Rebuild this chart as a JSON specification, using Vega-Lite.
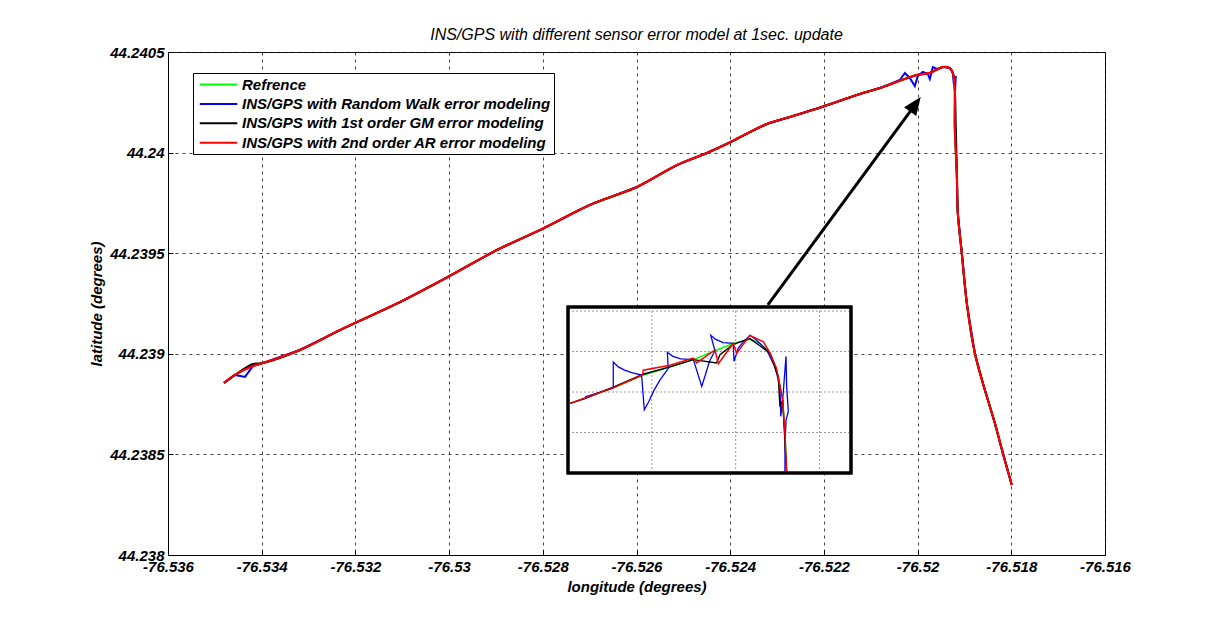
{
"$schema": "https://vega.github.io/schema/vega-lite/v6.json",
"width": 937,
"height": 503,
"autosize": {"type": "none"},
"padding": {"left": 168, "top": 52, "right": 114, "bottom": 70},
"background": "white",
"title": {"text": "INS/GPS with different sensor error model  at 1sec. update", "font": "Liberation Sans", "fontSize": 16, "fontStyle": "italic", "fontWeight": "normal", "color": "black", "anchor": "middle", "baseline": "bottom", "offset": 11, "dy": 25},
"config": {
 "font": "Liberation Sans",
 "view": {"stroke": "black", "strokeWidth": 1},
 "axis": {"domainColor": "black", "domainWidth": 1, "tickColor": "black", "tickSize": -5, "labelPadding": 9, "labelColor": "black", "titleColor": "black", "labelFont": "Liberation Sans", "labelFontSize": 15, "labelFontWeight": "bold", "labelFontStyle": "italic", "titleFont": "Liberation Sans", "titleFontSize": 15, "titleFontWeight": "bold", "titleFontStyle": "italic", "grid": true, "gridColor": "#222222", "gridDash": [3, 4], "gridOpacity": 0.85, "gridWidth": 1, "labelFlush": false, "labelOverlap": false, "titlePadding": 5}
},
"datasets": {
 "main": [
  {"s":"Refrence","i":1,"lon":-76.534805,"lat":44.238855},
  {"s":"Refrence","i":2,"lon":-76.534570,"lat":44.238895},
  {"s":"Refrence","i":3,"lon":-76.534186,"lat":44.238939},
  {"s":"Refrence","i":4,"lon":-76.533973,"lat":44.238954},
  {"s":"Refrence","i":5,"lon":-76.533183,"lat":44.239019},
  {"s":"Refrence","i":6,"lon":-76.532330,"lat":44.239118},
  {"s":"Refrence","i":7,"lon":-76.531049,"lat":44.239257},
  {"s":"Refrence","i":8,"lon":-76.530025,"lat":44.239382},
  {"s":"Refrence","i":9,"lon":-76.528979,"lat":44.239516},
  {"s":"Refrence","i":10,"lon":-76.528019,"lat":44.239620},
  {"s":"Refrence","i":11,"lon":-76.526995,"lat":44.239740},
  {"s":"Refrence","i":12,"lon":-76.525992,"lat":44.239829},
  {"s":"Refrence","i":13,"lon":-76.525138,"lat":44.239938},
  {"s":"Refrence","i":14,"lon":-76.524498,"lat":44.239998},
  {"s":"Refrence","i":15,"lon":-76.524029,"lat":44.240048},
  {"s":"Refrence","i":16,"lon":-76.523581,"lat":44.240102},
  {"s":"Refrence","i":17,"lon":-76.523218,"lat":44.240142},
  {"s":"Refrence","i":18,"lon":-76.522727,"lat":44.240177},
  {"s":"Refrence","i":19,"lon":-76.522044,"lat":44.240227},
  {"s":"Refrence","i":20,"lon":-76.521297,"lat":44.240286},
  {"s":"Refrence","i":21,"lon":-76.520742,"lat":44.240326},
  {"s":"Refrence","i":22,"lon":-76.520017,"lat":44.240386},
  {"s":"Refrence","i":23,"lon":-76.519739,"lat":44.240396},
  {"s":"Refrence","i":24,"lon":-76.519462,"lat":44.240425},
  {"s":"Refrence","i":25,"lon":-76.519312,"lat":44.240420},
  {"s":"Refrence","i":26,"lon":-76.519248,"lat":44.240396},
  {"s":"Refrence","i":27,"lon":-76.519206,"lat":44.240311},
  {"s":"Refrence","i":28,"lon":-76.519206,"lat":44.240127},
  {"s":"Refrence","i":29,"lon":-76.519163,"lat":44.239899},
  {"s":"Refrence","i":30,"lon":-76.519142,"lat":44.239700},
  {"s":"Refrence","i":31,"lon":-76.519057,"lat":44.239501},
  {"s":"Refrence","i":32,"lon":-76.518950,"lat":44.239252},
  {"s":"Refrence","i":33,"lon":-76.518779,"lat":44.239004},
  {"s":"Refrence","i":34,"lon":-76.518608,"lat":44.238855},
  {"s":"Refrence","i":35,"lon":-76.518352,"lat":44.238656},
  {"s":"Refrence","i":36,"lon":-76.518181,"lat":44.238507},
  {"s":"Refrence","i":37,"lon":-76.517989,"lat":44.238348},

  {"s":"INS/GPS with Random Walk error modeling","i":1,"lon":-76.534805,"lat":44.238855},
  {"s":"INS/GPS with Random Walk error modeling","i":2,"lon":-76.534570,"lat":44.238895},
  {"s":"INS/GPS with Random Walk error modeling","i":3,"lon":-76.534357,"lat":44.238885},
  {"s":"INS/GPS with Random Walk error modeling","i":4,"lon":-76.534186,"lat":44.238939},
  {"s":"INS/GPS with Random Walk error modeling","i":5,"lon":-76.533973,"lat":44.238954},
  {"s":"INS/GPS with Random Walk error modeling","i":6,"lon":-76.533183,"lat":44.239019},
  {"s":"INS/GPS with Random Walk error modeling","i":7,"lon":-76.532330,"lat":44.239118},
  {"s":"INS/GPS with Random Walk error modeling","i":8,"lon":-76.531049,"lat":44.239257},
  {"s":"INS/GPS with Random Walk error modeling","i":9,"lon":-76.530025,"lat":44.239382},
  {"s":"INS/GPS with Random Walk error modeling","i":10,"lon":-76.528979,"lat":44.239516},
  {"s":"INS/GPS with Random Walk error modeling","i":11,"lon":-76.528019,"lat":44.239620},
  {"s":"INS/GPS with Random Walk error modeling","i":12,"lon":-76.526995,"lat":44.239740},
  {"s":"INS/GPS with Random Walk error modeling","i":13,"lon":-76.525992,"lat":44.239829},
  {"s":"INS/GPS with Random Walk error modeling","i":14,"lon":-76.525138,"lat":44.239938},
  {"s":"INS/GPS with Random Walk error modeling","i":15,"lon":-76.524498,"lat":44.239998},
  {"s":"INS/GPS with Random Walk error modeling","i":16,"lon":-76.524029,"lat":44.240048},
  {"s":"INS/GPS with Random Walk error modeling","i":17,"lon":-76.523581,"lat":44.240102},
  {"s":"INS/GPS with Random Walk error modeling","i":18,"lon":-76.523218,"lat":44.240142},
  {"s":"INS/GPS with Random Walk error modeling","i":19,"lon":-76.522727,"lat":44.240177},
  {"s":"INS/GPS with Random Walk error modeling","i":20,"lon":-76.522044,"lat":44.240227},
  {"s":"INS/GPS with Random Walk error modeling","i":21,"lon":-76.521297,"lat":44.240286},
  {"s":"INS/GPS with Random Walk error modeling","i":22,"lon":-76.520742,"lat":44.240326},
  {"s":"INS/GPS with Random Walk error modeling","i":23,"lon":-76.520379,"lat":44.240361},
  {"s":"INS/GPS with Random Walk error modeling","i":24,"lon":-76.520272,"lat":44.240396},
  {"s":"INS/GPS with Random Walk error modeling","i":25,"lon":-76.520166,"lat":44.240371},
  {"s":"INS/GPS with Random Walk error modeling","i":26,"lon":-76.520059,"lat":44.240331},
  {"s":"INS/GPS with Random Walk error modeling","i":27,"lon":-76.519995,"lat":44.240381},
  {"s":"INS/GPS with Random Walk error modeling","i":28,"lon":-76.519888,"lat":44.240401},
  {"s":"INS/GPS with Random Walk error modeling","i":29,"lon":-76.519782,"lat":44.240391},
  {"s":"INS/GPS with Random Walk error modeling","i":30,"lon":-76.519739,"lat":44.240366},
  {"s":"INS/GPS with Random Walk error modeling","i":31,"lon":-76.519675,"lat":44.240425},
  {"s":"INS/GPS with Random Walk error modeling","i":32,"lon":-76.519568,"lat":44.240415},
  {"s":"INS/GPS with Random Walk error modeling","i":33,"lon":-76.519462,"lat":44.240425},
  {"s":"INS/GPS with Random Walk error modeling","i":34,"lon":-76.519312,"lat":44.240420},
  {"s":"INS/GPS with Random Walk error modeling","i":35,"lon":-76.519248,"lat":44.240396},
  {"s":"INS/GPS with Random Walk error modeling","i":36,"lon":-76.519227,"lat":44.240341},
  {"s":"INS/GPS with Random Walk error modeling","i":37,"lon":-76.519184,"lat":44.240381},
  {"s":"INS/GPS with Random Walk error modeling","i":38,"lon":-76.519206,"lat":44.240286},
  {"s":"INS/GPS with Random Walk error modeling","i":39,"lon":-76.519206,"lat":44.240127},
  {"s":"INS/GPS with Random Walk error modeling","i":40,"lon":-76.519163,"lat":44.239899},
  {"s":"INS/GPS with Random Walk error modeling","i":41,"lon":-76.519142,"lat":44.239700},
  {"s":"INS/GPS with Random Walk error modeling","i":42,"lon":-76.519057,"lat":44.239501},
  {"s":"INS/GPS with Random Walk error modeling","i":43,"lon":-76.518950,"lat":44.239252},
  {"s":"INS/GPS with Random Walk error modeling","i":44,"lon":-76.518779,"lat":44.239004},
  {"s":"INS/GPS with Random Walk error modeling","i":45,"lon":-76.518608,"lat":44.238855},
  {"s":"INS/GPS with Random Walk error modeling","i":46,"lon":-76.518352,"lat":44.238656},
  {"s":"INS/GPS with Random Walk error modeling","i":47,"lon":-76.518181,"lat":44.238507},
  {"s":"INS/GPS with Random Walk error modeling","i":48,"lon":-76.517989,"lat":44.238348},

  {"s":"INS/GPS with 1st order GM error modeling","i":1,"lon":-76.534805,"lat":44.238855},
  {"s":"INS/GPS with 1st order GM error modeling","i":2,"lon":-76.534570,"lat":44.238895},
  {"s":"INS/GPS with 1st order GM error modeling","i":3,"lon":-76.534186,"lat":44.238949},
  {"s":"INS/GPS with 1st order GM error modeling","i":4,"lon":-76.533973,"lat":44.238954},
  {"s":"INS/GPS with 1st order GM error modeling","i":5,"lon":-76.533183,"lat":44.239019},
  {"s":"INS/GPS with 1st order GM error modeling","i":6,"lon":-76.532330,"lat":44.239118},
  {"s":"INS/GPS with 1st order GM error modeling","i":7,"lon":-76.531049,"lat":44.239257},
  {"s":"INS/GPS with 1st order GM error modeling","i":8,"lon":-76.530025,"lat":44.239382},
  {"s":"INS/GPS with 1st order GM error modeling","i":9,"lon":-76.528979,"lat":44.239516},
  {"s":"INS/GPS with 1st order GM error modeling","i":10,"lon":-76.528019,"lat":44.239620},
  {"s":"INS/GPS with 1st order GM error modeling","i":11,"lon":-76.526995,"lat":44.239740},
  {"s":"INS/GPS with 1st order GM error modeling","i":12,"lon":-76.525992,"lat":44.239829},
  {"s":"INS/GPS with 1st order GM error modeling","i":13,"lon":-76.525138,"lat":44.239938},
  {"s":"INS/GPS with 1st order GM error modeling","i":14,"lon":-76.524498,"lat":44.239998},
  {"s":"INS/GPS with 1st order GM error modeling","i":15,"lon":-76.524029,"lat":44.240048},
  {"s":"INS/GPS with 1st order GM error modeling","i":16,"lon":-76.523581,"lat":44.240102},
  {"s":"INS/GPS with 1st order GM error modeling","i":17,"lon":-76.523218,"lat":44.240142},
  {"s":"INS/GPS with 1st order GM error modeling","i":18,"lon":-76.522727,"lat":44.240177},
  {"s":"INS/GPS with 1st order GM error modeling","i":19,"lon":-76.522044,"lat":44.240227},
  {"s":"INS/GPS with 1st order GM error modeling","i":20,"lon":-76.521297,"lat":44.240286},
  {"s":"INS/GPS with 1st order GM error modeling","i":21,"lon":-76.520742,"lat":44.240326},
  {"s":"INS/GPS with 1st order GM error modeling","i":22,"lon":-76.520017,"lat":44.240386},
  {"s":"INS/GPS with 1st order GM error modeling","i":23,"lon":-76.519739,"lat":44.240396},
  {"s":"INS/GPS with 1st order GM error modeling","i":24,"lon":-76.519462,"lat":44.240425},
  {"s":"INS/GPS with 1st order GM error modeling","i":25,"lon":-76.519312,"lat":44.240420},
  {"s":"INS/GPS with 1st order GM error modeling","i":26,"lon":-76.519248,"lat":44.240396},
  {"s":"INS/GPS with 1st order GM error modeling","i":27,"lon":-76.519206,"lat":44.240311},
  {"s":"INS/GPS with 1st order GM error modeling","i":28,"lon":-76.519185,"lat":44.240127},
  {"s":"INS/GPS with 1st order GM error modeling","i":29,"lon":-76.519163,"lat":44.239899},
  {"s":"INS/GPS with 1st order GM error modeling","i":30,"lon":-76.519142,"lat":44.239700},
  {"s":"INS/GPS with 1st order GM error modeling","i":31,"lon":-76.519057,"lat":44.239501},
  {"s":"INS/GPS with 1st order GM error modeling","i":32,"lon":-76.518950,"lat":44.239252},
  {"s":"INS/GPS with 1st order GM error modeling","i":33,"lon":-76.518779,"lat":44.239004},
  {"s":"INS/GPS with 1st order GM error modeling","i":34,"lon":-76.518608,"lat":44.238855},
  {"s":"INS/GPS with 1st order GM error modeling","i":35,"lon":-76.518352,"lat":44.238656},
  {"s":"INS/GPS with 1st order GM error modeling","i":36,"lon":-76.518181,"lat":44.238507},
  {"s":"INS/GPS with 1st order GM error modeling","i":37,"lon":-76.517989,"lat":44.238348},

  {"s":"INS/GPS with 2nd order AR error modeling","i":1,"lon":-76.534805,"lat":44.238855},
  {"s":"INS/GPS with 2nd order AR error modeling","i":2,"lon":-76.534570,"lat":44.238895},
  {"s":"INS/GPS with 2nd order AR error modeling","i":3,"lon":-76.534186,"lat":44.238939},
  {"s":"INS/GPS with 2nd order AR error modeling","i":4,"lon":-76.533973,"lat":44.238954},
  {"s":"INS/GPS with 2nd order AR error modeling","i":5,"lon":-76.533183,"lat":44.239019},
  {"s":"INS/GPS with 2nd order AR error modeling","i":6,"lon":-76.532330,"lat":44.239118},
  {"s":"INS/GPS with 2nd order AR error modeling","i":7,"lon":-76.531049,"lat":44.239257},
  {"s":"INS/GPS with 2nd order AR error modeling","i":8,"lon":-76.530025,"lat":44.239382},
  {"s":"INS/GPS with 2nd order AR error modeling","i":9,"lon":-76.528979,"lat":44.239516},
  {"s":"INS/GPS with 2nd order AR error modeling","i":10,"lon":-76.528019,"lat":44.239620},
  {"s":"INS/GPS with 2nd order AR error modeling","i":11,"lon":-76.526995,"lat":44.239740},
  {"s":"INS/GPS with 2nd order AR error modeling","i":12,"lon":-76.525992,"lat":44.239829},
  {"s":"INS/GPS with 2nd order AR error modeling","i":13,"lon":-76.525138,"lat":44.239938},
  {"s":"INS/GPS with 2nd order AR error modeling","i":14,"lon":-76.524498,"lat":44.239998},
  {"s":"INS/GPS with 2nd order AR error modeling","i":15,"lon":-76.524029,"lat":44.240048},
  {"s":"INS/GPS with 2nd order AR error modeling","i":16,"lon":-76.523581,"lat":44.240102},
  {"s":"INS/GPS with 2nd order AR error modeling","i":17,"lon":-76.523218,"lat":44.240142},
  {"s":"INS/GPS with 2nd order AR error modeling","i":18,"lon":-76.522727,"lat":44.240177},
  {"s":"INS/GPS with 2nd order AR error modeling","i":19,"lon":-76.522044,"lat":44.240227},
  {"s":"INS/GPS with 2nd order AR error modeling","i":20,"lon":-76.521297,"lat":44.240286},
  {"s":"INS/GPS with 2nd order AR error modeling","i":21,"lon":-76.520742,"lat":44.240326},
  {"s":"INS/GPS with 2nd order AR error modeling","i":22,"lon":-76.520017,"lat":44.240386},
  {"s":"INS/GPS with 2nd order AR error modeling","i":23,"lon":-76.519739,"lat":44.240396},
  {"s":"INS/GPS with 2nd order AR error modeling","i":24,"lon":-76.519462,"lat":44.240425},
  {"s":"INS/GPS with 2nd order AR error modeling","i":25,"lon":-76.519312,"lat":44.240420},
  {"s":"INS/GPS with 2nd order AR error modeling","i":26,"lon":-76.519248,"lat":44.240396},
  {"s":"INS/GPS with 2nd order AR error modeling","i":27,"lon":-76.519206,"lat":44.240311},
  {"s":"INS/GPS with 2nd order AR error modeling","i":28,"lon":-76.519206,"lat":44.240127},
  {"s":"INS/GPS with 2nd order AR error modeling","i":29,"lon":-76.519163,"lat":44.239899},
  {"s":"INS/GPS with 2nd order AR error modeling","i":30,"lon":-76.519142,"lat":44.239700},
  {"s":"INS/GPS with 2nd order AR error modeling","i":31,"lon":-76.519057,"lat":44.239501},
  {"s":"INS/GPS with 2nd order AR error modeling","i":32,"lon":-76.518950,"lat":44.239252},
  {"s":"INS/GPS with 2nd order AR error modeling","i":33,"lon":-76.518779,"lat":44.239004},
  {"s":"INS/GPS with 2nd order AR error modeling","i":34,"lon":-76.518608,"lat":44.238855},
  {"s":"INS/GPS with 2nd order AR error modeling","i":35,"lon":-76.518352,"lat":44.238656},
  {"s":"INS/GPS with 2nd order AR error modeling","i":36,"lon":-76.518181,"lat":44.238507},
  {"s":"INS/GPS with 2nd order AR error modeling","i":37,"lon":-76.517989,"lat":44.238348}
 ],
 "arrow": [
  {"lon": -76.523196, "lat": 44.239243, "lon2": -76.520059, "lat2": 44.240236}
 ],
 "insetBox": [
  {"lon": -76.5204, "lon2": -76.51905, "lat": 44.24025, "lat2": 44.240455}
 ],
 "insetGridX": [{"lon": -76.5200}, {"lon": -76.5196}, {"lon": -76.5192}],
 "insetGridY": [{"lat": 44.24045}, {"lat": 44.2404}, {"lat": 44.24035}, {"lat": 44.2403}],
 "inset": [
  {"s":"Refrence","i":1,"lon":-76.520390,"lat":44.240336},
  {"s":"Refrence","i":2,"lon":-76.520176,"lat":44.240356},
  {"s":"Refrence","i":3,"lon":-76.520041,"lat":44.240371},
  {"s":"Refrence","i":4,"lon":-76.519914,"lat":44.240381},
  {"s":"Refrence","i":5,"lon":-76.519802,"lat":44.240390},
  {"s":"Refrence","i":6,"lon":-76.519699,"lat":44.240401},
  {"s":"Refrence","i":7,"lon":-76.519612,"lat":44.240410},
  {"s":"Refrence","i":8,"lon":-76.519532,"lat":44.240415},
  {"s":"Refrence","i":9,"lon":-76.519484,"lat":44.240410},
  {"s":"Refrence","i":10,"lon":-76.519436,"lat":44.240398},
  {"s":"Refrence","i":11,"lon":-76.519397,"lat":44.240369},
  {"s":"Refrence","i":12,"lon":-76.519376,"lat":44.240340},
  {"s":"Refrence","i":13,"lon":-76.519365,"lat":44.240299},
  {"s":"Refrence","i":14,"lon":-76.519357,"lat":44.240250},

  {"s":"INS/GPS with Random Walk error modeling","i":1,"lon":-76.520319,"lat":44.240344},
  {"s":"INS/GPS with Random Walk error modeling","i":2,"lon":-76.520279,"lat":44.240347},
  {"s":"INS/GPS with Random Walk error modeling","i":3,"lon":-76.520184,"lat":44.240355},
  {"s":"INS/GPS with Random Walk error modeling","i":4,"lon":-76.520184,"lat":44.240387},
  {"s":"INS/GPS with Random Walk error modeling","i":5,"lon":-76.520160,"lat":44.240381},
  {"s":"INS/GPS with Random Walk error modeling","i":6,"lon":-76.520130,"lat":44.240377},
  {"s":"INS/GPS with Random Walk error modeling","i":7,"lon":-76.520096,"lat":44.240374},
  {"s":"INS/GPS with Random Walk error modeling","i":8,"lon":-76.520049,"lat":44.240371},
  {"s":"INS/GPS with Random Walk error modeling","i":9,"lon":-76.520036,"lat":44.240328},
  {"s":"INS/GPS with Random Walk error modeling","i":10,"lon":-76.520015,"lat":44.240338},
  {"s":"INS/GPS with Random Walk error modeling","i":11,"lon":-76.519990,"lat":44.240352},
  {"s":"INS/GPS with Random Walk error modeling","i":12,"lon":-76.519961,"lat":44.240365},
  {"s":"INS/GPS with Random Walk error modeling","i":13,"lon":-76.519922,"lat":44.240379},
  {"s":"INS/GPS with Random Walk error modeling","i":14,"lon":-76.519926,"lat":44.240399},
  {"s":"INS/GPS with Random Walk error modeling","i":15,"lon":-76.519900,"lat":44.240394},
  {"s":"INS/GPS with Random Walk error modeling","i":16,"lon":-76.519862,"lat":44.240391},
  {"s":"INS/GPS with Random Walk error modeling","i":17,"lon":-76.519802,"lat":44.240390},
  {"s":"INS/GPS with Random Walk error modeling","i":18,"lon":-76.519762,"lat":44.240357},
  {"s":"INS/GPS with Random Walk error modeling","i":19,"lon":-76.519745,"lat":44.240371},
  {"s":"INS/GPS with Random Walk error modeling","i":20,"lon":-76.519725,"lat":44.240388},
  {"s":"INS/GPS with Random Walk error modeling","i":21,"lon":-76.519699,"lat":44.240401},
  {"s":"INS/GPS with Random Walk error modeling","i":22,"lon":-76.519719,"lat":44.240420},
  {"s":"INS/GPS with Random Walk error modeling","i":23,"lon":-76.519695,"lat":44.240415},
  {"s":"INS/GPS with Random Walk error modeling","i":24,"lon":-76.519660,"lat":44.240411},
  {"s":"INS/GPS with Random Walk error modeling","i":25,"lon":-76.519612,"lat":44.240410},
  {"s":"INS/GPS with Random Walk error modeling","i":26,"lon":-76.519608,"lat":44.240388},
  {"s":"INS/GPS with Random Walk error modeling","i":27,"lon":-76.519588,"lat":44.240404},
  {"s":"INS/GPS with Random Walk error modeling","i":28,"lon":-76.519564,"lat":44.240412},
  {"s":"INS/GPS with Random Walk error modeling","i":29,"lon":-76.519532,"lat":44.240420},
  {"s":"INS/GPS with Random Walk error modeling","i":30,"lon":-76.519500,"lat":44.240414},
  {"s":"INS/GPS with Random Walk error modeling","i":31,"lon":-76.519452,"lat":44.240402},
  {"s":"INS/GPS with Random Walk error modeling","i":32,"lon":-76.519413,"lat":44.240381},
  {"s":"INS/GPS with Random Walk error modeling","i":33,"lon":-76.519389,"lat":44.240357},
  {"s":"INS/GPS with Random Walk error modeling","i":34,"lon":-76.519385,"lat":44.240320},
  {"s":"INS/GPS with Random Walk error modeling","i":35,"lon":-76.519376,"lat":44.240340},
  {"s":"INS/GPS with Random Walk error modeling","i":36,"lon":-76.519360,"lat":44.240394},
  {"s":"INS/GPS with Random Walk error modeling","i":37,"lon":-76.519357,"lat":44.240357},
  {"s":"INS/GPS with Random Walk error modeling","i":38,"lon":-76.519349,"lat":44.240326},
  {"s":"INS/GPS with Random Walk error modeling","i":39,"lon":-76.519360,"lat":44.240315},
  {"s":"INS/GPS with Random Walk error modeling","i":40,"lon":-76.519365,"lat":44.240282},
  {"s":"INS/GPS with Random Walk error modeling","i":41,"lon":-76.519365,"lat":44.240252},

  {"s":"INS/GPS with 1st order GM error modeling","i":1,"lon":-76.520390,"lat":44.240336},
  {"s":"INS/GPS with 1st order GM error modeling","i":2,"lon":-76.520319,"lat":44.240342},
  {"s":"INS/GPS with 1st order GM error modeling","i":3,"lon":-76.520176,"lat":44.240357},
  {"s":"INS/GPS with 1st order GM error modeling","i":4,"lon":-76.520041,"lat":44.240372},
  {"s":"INS/GPS with 1st order GM error modeling","i":5,"lon":-76.519914,"lat":44.240381},
  {"s":"INS/GPS with 1st order GM error modeling","i":6,"lon":-76.519802,"lat":44.240390},
  {"s":"INS/GPS with 1st order GM error modeling","i":7,"lon":-76.519691,"lat":44.240386},
  {"s":"INS/GPS with 1st order GM error modeling","i":8,"lon":-76.519675,"lat":44.240396},
  {"s":"INS/GPS with 1st order GM error modeling","i":9,"lon":-76.519612,"lat":44.240409},
  {"s":"INS/GPS with 1st order GM error modeling","i":10,"lon":-76.519532,"lat":44.240416},
  {"s":"INS/GPS with 1st order GM error modeling","i":11,"lon":-76.519436,"lat":44.240398},
  {"s":"INS/GPS with 1st order GM error modeling","i":12,"lon":-76.519397,"lat":44.240369},
  {"s":"INS/GPS with 1st order GM error modeling","i":13,"lon":-76.519389,"lat":44.240332},
  {"s":"INS/GPS with 1st order GM error modeling","i":14,"lon":-76.519376,"lat":44.240340},
  {"s":"INS/GPS with 1st order GM error modeling","i":15,"lon":-76.519357,"lat":44.240250},

  {"s":"INS/GPS with 2nd order AR error modeling","i":1,"lon":-76.520390,"lat":44.240336},
  {"s":"INS/GPS with 2nd order AR error modeling","i":2,"lon":-76.520176,"lat":44.240356},
  {"s":"INS/GPS with 2nd order AR error modeling","i":3,"lon":-76.520044,"lat":44.240371},
  {"s":"INS/GPS with 2nd order AR error modeling","i":4,"lon":-76.520041,"lat":44.240377},
  {"s":"INS/GPS with 2nd order AR error modeling","i":5,"lon":-76.519914,"lat":44.240383},
  {"s":"INS/GPS with 2nd order AR error modeling","i":6,"lon":-76.519802,"lat":44.240392},
  {"s":"INS/GPS with 2nd order AR error modeling","i":7,"lon":-76.519786,"lat":44.240386},
  {"s":"INS/GPS with 2nd order AR error modeling","i":8,"lon":-76.519699,"lat":44.240402},
  {"s":"INS/GPS with 2nd order AR error modeling","i":9,"lon":-76.519683,"lat":44.240385},
  {"s":"INS/GPS with 2nd order AR error modeling","i":10,"lon":-76.519612,"lat":44.240410},
  {"s":"INS/GPS with 2nd order AR error modeling","i":11,"lon":-76.519595,"lat":44.240398},
  {"s":"INS/GPS with 2nd order AR error modeling","i":12,"lon":-76.519532,"lat":44.240420},
  {"s":"INS/GPS with 2nd order AR error modeling","i":13,"lon":-76.519468,"lat":44.240412},
  {"s":"INS/GPS with 2nd order AR error modeling","i":14,"lon":-76.519436,"lat":44.240398},
  {"s":"INS/GPS with 2nd order AR error modeling","i":15,"lon":-76.519405,"lat":44.240379},
  {"s":"INS/GPS with 2nd order AR error modeling","i":16,"lon":-76.519376,"lat":44.240340},
  {"s":"INS/GPS with 2nd order AR error modeling","i":17,"lon":-76.519365,"lat":44.240299},
  {"s":"INS/GPS with 2nd order AR error modeling","i":18,"lon":-76.519357,"lat":44.240250}
 ]
},
"resolve": {"scale": {"x": "independent", "y": "independent"}},
"layer": [
 {
  "layer": [
   {
    "data": {"name": "main"},
    "encoding": {
     "x": {"field": "lon", "type": "quantitative", "scale": {"domain": [-76.536, -76.516], "nice": false, "zero": false}, "axis": {"values": [-76.536, -76.534, -76.532, -76.53, -76.528, -76.526, -76.524, -76.522, -76.52, -76.518, -76.516], "labelExpr": "replace(format(datum.value, '.6~g'), '\u2212', '-')"}, "title": "longitude (degrees)"},
     "y": {"field": "lat", "type": "quantitative", "scale": {"domain": [44.238, 44.2405], "nice": false, "zero": false}, "axis": {"values": [44.238, 44.2385, 44.239, 44.2395, 44.24, 44.2405], "labelExpr": "format(datum.value, '.6~g')"}, "title": "latitude (degrees)"},
     "color": {"field": "s", "type": "nominal",
      "scale": {"domain": ["Refrence", "INS/GPS with Random Walk error modeling", "INS/GPS with 1st order GM error modeling", "INS/GPS with 2nd order AR error modeling"], "range": ["#00ff00", "#0000ff", "#000000", "#ff0000"]},
      "legend": {"orient": "none", "legendX": 25, "legendY": 21, "title": null, "direction": "vertical", "symbolType": "M-2.5,0L2.5,0", "symbolSize": 225, "symbolStrokeWidth": 2, "labelFont": "Liberation Sans", "labelFontSize": 15, "labelFontWeight": "bold", "labelFontStyle": "italic", "labelColor": "black", "labelLimit": 500, "strokeColor": "black", "fillColor": "white", "padding": 3, "rowPadding": 2.4, "labelOffset": 15, "symbolOffset": 14}},
     "order": {"field": "i", "type": "quantitative"}
    },
    "layer": [
     {"transform": [{"filter": "datum.s === 'Refrence'"}], "mark": {"type": "line", "strokeWidth": 2, "interpolate": "catmull-rom"}},
     {"transform": [{"filter": "datum.s === 'INS/GPS with Random Walk error modeling'"}], "mark": {"type": "line", "strokeWidth": 2}},
     {"transform": [{"filter": "datum.s === 'INS/GPS with 1st order GM error modeling'"}], "mark": {"type": "line", "strokeWidth": 2, "interpolate": "catmull-rom"}},
     {"transform": [{"filter": "datum.s === 'INS/GPS with 2nd order AR error modeling'"}], "mark": {"type": "line", "strokeWidth": 2.2, "interpolate": "catmull-rom"}}
    ]
   },
   {
    "data": {"name": "arrow"},
    "mark": {"type": "rule", "color": "black", "strokeWidth": 3},
    "encoding": {
     "x": {"field": "lon", "type": "quantitative", "title": "longitude (degrees)"},
     "y": {"field": "lat", "type": "quantitative", "title": "latitude (degrees)"},
     "x2": {"field": "lon2"},
     "y2": {"field": "lat2"}
    }
   },
   {
    "data": {"name": "arrow"},
    "mark": {"type": "point", "shape": "M0,-1L0.75,0.8L-0.75,0.8Z", "angle": 36, "filled": true, "color": "black", "opacity": 1, "size": 400},
    "encoding": {
     "x": {"field": "lon2", "type": "quantitative", "title": "longitude (degrees)"},
     "y": {"field": "lat2", "type": "quantitative", "title": "latitude (degrees)"}
    }
   }
  ]
 },
 {
  "layer": [
   {
    "data": {"name": "insetBox"},
    "mark": {"type": "rect", "fill": "white", "stroke": "black", "strokeWidth": 3},
    "encoding": {
     "x": {"field": "lon", "type": "quantitative", "scale": {"domain": [-76.5204, -76.51905], "range": [400, 683], "nice": false, "zero": false}, "axis": null},
     "x2": {"field": "lon2"},
     "y": {"field": "lat", "type": "quantitative", "scale": {"domain": [44.24025, 44.240455], "range": [421, 255], "nice": false, "zero": false}, "axis": null},
     "y2": {"field": "lat2"}
    }
   },
   {
    "data": {"name": "insetGridX"},
    "mark": {"type": "rule", "color": "#999999", "strokeDash": [2, 2], "strokeWidth": 1},
    "encoding": {
     "x": {"field": "lon", "type": "quantitative", "scale": {"domain": [-76.5204, -76.51905], "range": [400, 683], "nice": false, "zero": false}, "axis": null},
     "y": {"datum": 44.24025, "type": "quantitative", "scale": {"domain": [44.24025, 44.240455], "range": [421, 255], "nice": false, "zero": false}, "axis": null},
     "y2": {"datum": 44.240455}
    }
   },
   {
    "data": {"name": "insetGridY"},
    "mark": {"type": "rule", "color": "#999999", "strokeDash": [2, 2], "strokeWidth": 1},
    "encoding": {
     "y": {"field": "lat", "type": "quantitative", "scale": {"domain": [44.24025, 44.240455], "range": [421, 255], "nice": false, "zero": false}, "axis": null},
     "x": {"datum": -76.5204, "type": "quantitative", "scale": {"domain": [-76.5204, -76.51905], "range": [400, 683], "nice": false, "zero": false}, "axis": null},
     "x2": {"datum": -76.51905}
    }
   },
   {
    "data": {"name": "inset"},
    "encoding": {
     "x": {"field": "lon", "type": "quantitative", "scale": {"domain": [-76.5204, -76.51905], "range": [400, 683], "nice": false, "zero": false}, "axis": null},
     "y": {"field": "lat", "type": "quantitative", "scale": {"domain": [44.24025, 44.240455], "range": [421, 255], "nice": false, "zero": false}, "axis": null},
     "order": {"field": "i", "type": "quantitative"}
    },
    "layer": [
     {"transform": [{"filter": "datum.s === 'Refrence'"}], "mark": {"type": "line", "strokeWidth": 1.5, "color": "#00ff00"}},
     {"transform": [{"filter": "datum.s === 'INS/GPS with Random Walk error modeling'"}], "mark": {"type": "line", "strokeWidth": 1.3, "color": "#0000ff"}},
     {"transform": [{"filter": "datum.s === 'INS/GPS with 1st order GM error modeling'"}], "mark": {"type": "line", "strokeWidth": 1.4, "color": "#000000"}},
     {"transform": [{"filter": "datum.s === 'INS/GPS with 2nd order AR error modeling'"}], "mark": {"type": "line", "strokeWidth": 1.5, "color": "#ff0000"}}
    ]
   },
   {
    "data": {"name": "insetBox"},
    "mark": {"type": "rect", "fill": null, "fillOpacity": 0, "stroke": "black", "strokeWidth": 3},
    "encoding": {
     "x": {"field": "lon", "type": "quantitative", "scale": {"domain": [-76.5204, -76.51905], "range": [400, 683], "nice": false, "zero": false}, "axis": null},
     "x2": {"field": "lon2"},
     "y": {"field": "lat", "type": "quantitative", "scale": {"domain": [44.24025, 44.240455], "range": [421, 255], "nice": false, "zero": false}, "axis": null},
     "y2": {"field": "lat2"}
    }
   }
  ]
 }
]
}
